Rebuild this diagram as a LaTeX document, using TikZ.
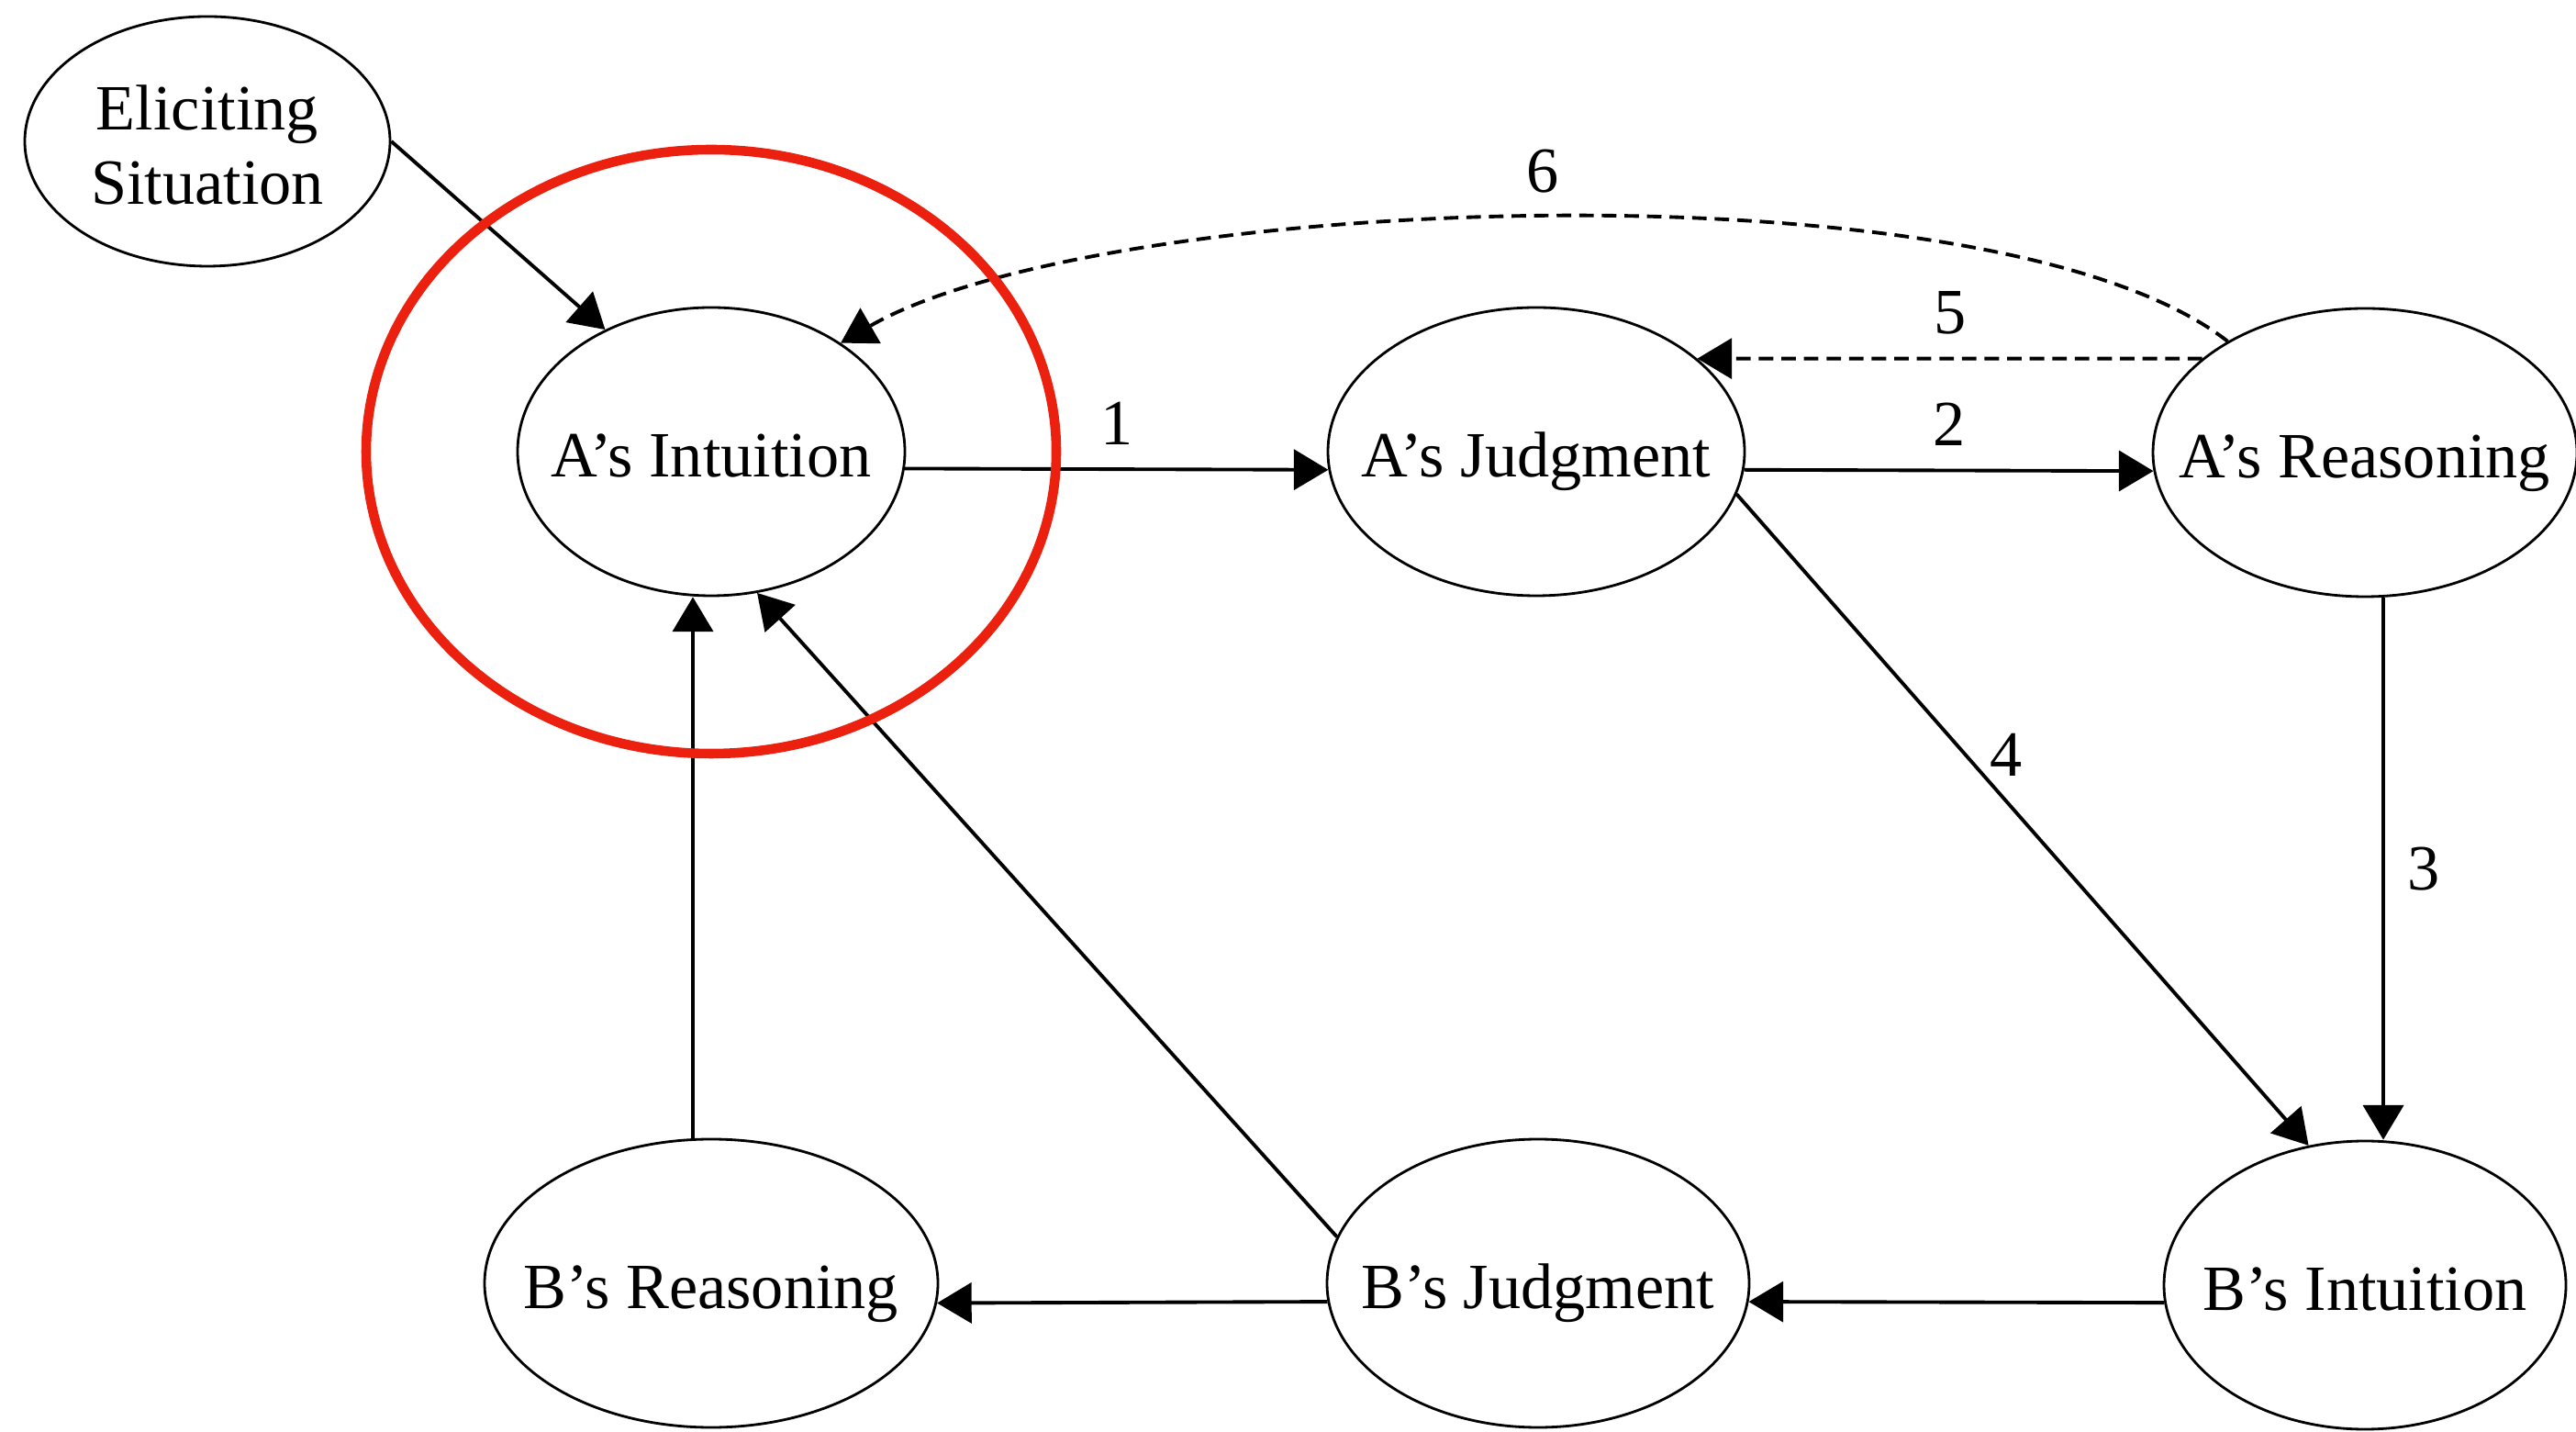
\documentclass[tikz,border=0pt]{standalone}
\usepackage{fontspec}
\setmainfont{Liberation Serif}
\usetikzlibrary{shapes.geometric, arrows.meta}

\definecolor{ringred}{RGB}{236,32,14}

\tikzset{
  state/.style={ellipse, draw, line width=0.8pt, minimum height=3.14cm, inner sep=0pt,
                text height=17.4pt, text depth=2pt},
  arr/.style={line width=1.1pt, -{Triangle[length=10.7pt,width=12.5pt]}},
  dasharr/.style={arr, dash pattern=on 4.5pt off 2.5pt},
  num/.style={inner sep=7pt}
}
% text of zero width, so the ellipse keeps the size given to it
\newcommand{\lbl}[1]{\makebox[0pt]{#1}}

\begin{document}
\begin{tikzpicture}[node font=\fontsize{20}{23}\selectfont]
\useasboundingbox (0,0) rectangle (28.07,15.59);

% --- Person A ---
\node[state, minimum width=3.98cm, minimum height=2.72cm, text height=31pt, text depth=14pt] (ES) at (2.26,14.05)
  {\lbl{\begin{tabular}{@{}c@{}}Eliciting\\Situation\end{tabular}}};
\node[state, minimum width=4.22cm] (AI) at (7.75,10.67) {\lbl{A's Intuition}};
\node[state, minimum width=4.54cm] (AJ) at (16.74,10.67) {\lbl{A's Judgment}};
\node[state, minimum width=4.62cm] (AR) at (25.77,10.66) {\lbl{A's Reasoning}};

% --- Person B ---
\node[state, minimum width=4.94cm] (BR) at (7.75,1.61) {\lbl{B's Reasoning}};
\node[state, minimum width=4.60cm] (BJ) at (16.76,1.61) {\lbl{B's Judgment}};
\node[state, minimum width=4.38cm] (BI) at (25.77,1.59) {\lbl{B's Intuition}};

% --- links ---
\draw[arr] (ES.east) -- (AI.131);
\draw[arr] (AI.-5) -- node[num, above] {1} (AJ.185);
\draw[arr] (AJ.-5) -- node[num, above] {2} (AR.185);
\draw[arr] ([xshift=0.2cm]AR.south) -- node[num, right] {3} ([xshift=0.2cm]BI.north);
\draw[arr] (AJ.-12) -- node[num, pos=0.4, right] {4} (BI.112);
\draw[dasharr] (AR.150) -- node[num, above] {5} (AJ.30);
\draw[dasharr] (AR.141) to[out=142, in=30, looseness=0.55] node[num, above] {6} (AI.40);

\draw[arr] (BI.185) -- (BJ.-5);
\draw[arr] (BJ.185) -- (BR.-5);
\draw[arr] (BJ.167) -- (AI.-72);
\draw[arr] ([xshift=-0.2cm]BR.north) -- ([xshift=-0.2cm]AI.south);

% highlight
\draw[ringred, line width=3pt] (AI.center) ellipse (3.76cm and 3.29cm);

\end{tikzpicture}
\end{document}
